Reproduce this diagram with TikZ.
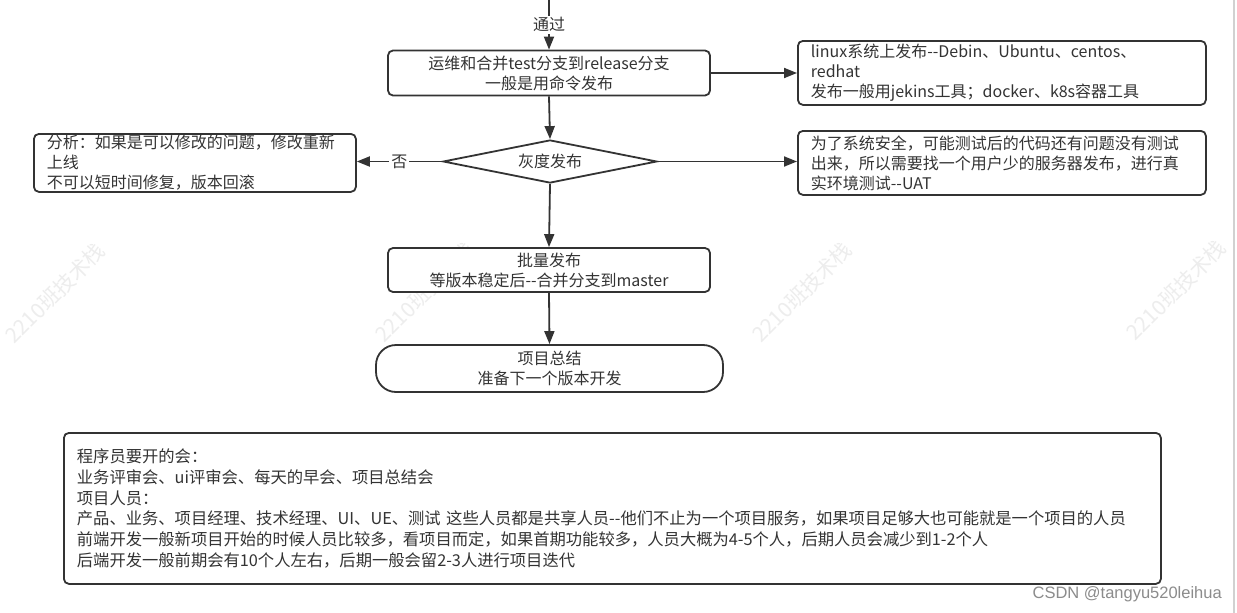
\documentclass[tikz,border=0pt]{standalone}
\usepackage{fontspec}
\setmainfont{Noto Sans CJK SC}[Ligatures=TeXOff]
\newfontfamily\csdnfont{Liberation Sans}
\newfontfamily\wmfont{Noto Sans CJK SC}[Ligatures=TeXOff]
\usetikzlibrary{shapes.geometric,arrows.meta,calc}
\definecolor{ln}{HTML}{333333}
\definecolor{tx}{HTML}{333333}
\newcommand\fsmain{\fontsize{16}{20}\selectfont}
\newcommand\fsbig{\fontsize{16.3}{20.7}\selectfont}
\newcommand\fswm{\wmfont\fontsize{21}{24}\selectfont}
\begin{document}
\begin{tikzpicture}[x=1pt,y=-1pt,
  line/.style={draw=ln,line width=1.8pt},
  arr/.style={line,-{Triangle[length=13pt,width=10pt]}},
  box/.style={draw=ln,line width=1.8pt,rounded corners=5pt,fill=white,text=tx,inner sep=0pt},
  cbox/.style={box,align=center,font=\fsmain},
  lbox/.style={box,align=left,font=\fsmain,inner xsep=13pt},
  lbl/.style={fill=white,text=tx,font=\fsmain,inner sep=2pt},
  wm/.style={text=black!7,font=\fswm,rotate=45,inner sep=0pt}]
\useasboundingbox (0,0) rectangle (1237,613);
\fill[white] (0,0) rectangle (1237,613);
% watermarks
\node[wm] (w1) at (55,293) {2210班技术栈};
\node[wm] (w2) at (425,292) {2210班技术栈};
\node[wm] (w3) at (802,292) {2210班技术栈};
\node[wm] (w4) at (1176,290) {2210班技术栈};
\draw[draw=black!18,line width=1.5pt] (1234,0) -- (1234,613);
% nodes
\coordinate (top) at (549,0);
\node[cbox,minimum width=322pt,minimum height=45pt] (b1) at (549,73)
  {运维和合并test分支到release分支\\一般是用命令发布};
\node[lbox,minimum height=64pt,text width=382pt,anchor=north west] (b2) at (797,40)
  {linux系统上发布--Debin、Ubuntu、centos、\\redhat\\发布一般用jekins工具；docker、k8s容器工具};
\node[diamond,aspect=5,draw=ln,line width=1.8pt,fill=white,minimum width=214pt,
  minimum height=43pt,inner sep=0pt,text=tx,font=\fsmain] (d) at (550,161.5) {灰度发布};
\node[lbox,minimum height=58pt,text width=296pt,anchor=north west] (b3) at (33,133)
  {分析：如果是可以修改的问题，修改重新\\上线\\不可以短时间修复，版本回滚};
\node[lbox,minimum height=64pt,text width=382pt,anchor=north west] (b4) at (797,130)
  {为了系统安全，可能测试后的代码还有问题没有测试\\出来，所以需要找一个用户少的服务器发布，进行真\\实环境测试--UAT};
\node[cbox,minimum width=322pt,minimum height=44pt] (b5) at (549,270)
  {批量发布\\等版本稳定后--合并分支到master};
\node[cbox,rounded corners=20pt,minimum width=347pt,minimum height=47pt] (t) at (549.5,368.5)
  {项目总结\\准备下一个版本开发};
\node[box,align=left,font=\fsbig,inner xsep=13pt,text width=1071pt,minimum height=151pt,
  anchor=north west] (n) at (63,432)
  {程序员要开的会：\\业务评审会、ui评审会、每天的早会、项目总结会\\项目人员：\\产品、业务、项目经理、技术经理、UI、UE、测试 这些人员都是共享人员--他们不止为一个项目服务，如果项目足够大也可能就是一个项目的人员\\前端开发一般新项目开始的时候人员比较多，看项目而定，如果首期功能较多，人员大概为4-5个人，后期人员会减少到1-2个人\\后端开发一般前期会有10个人左右，后期一般会留2-3人进行项目迭代};
\node[font=\csdnfont\fontsize{16.5}{18}\selectfont,text=black!45,anchor=east,inner sep=0pt] (csdn) at (1222,594)
  {CSDN @tangyu520leihua};
% connectors
\draw[arr] (top) -- node[lbl]{通过} (b1.north);
\draw[arr] (b1.east) -- (b1.east -| b2.west);
\draw[arr] (b1.south) -- (d.north);
\draw[arr] (d.west) -- node[lbl]{否} (d.west -| b3.east);
\draw[arr] (d.east) -- (d.east -| b4.west);
\draw[arr] (d.south) -- (b5.north);
\draw[arr] (b5.south) -- (t.north);
\end{tikzpicture}
\end{document}
